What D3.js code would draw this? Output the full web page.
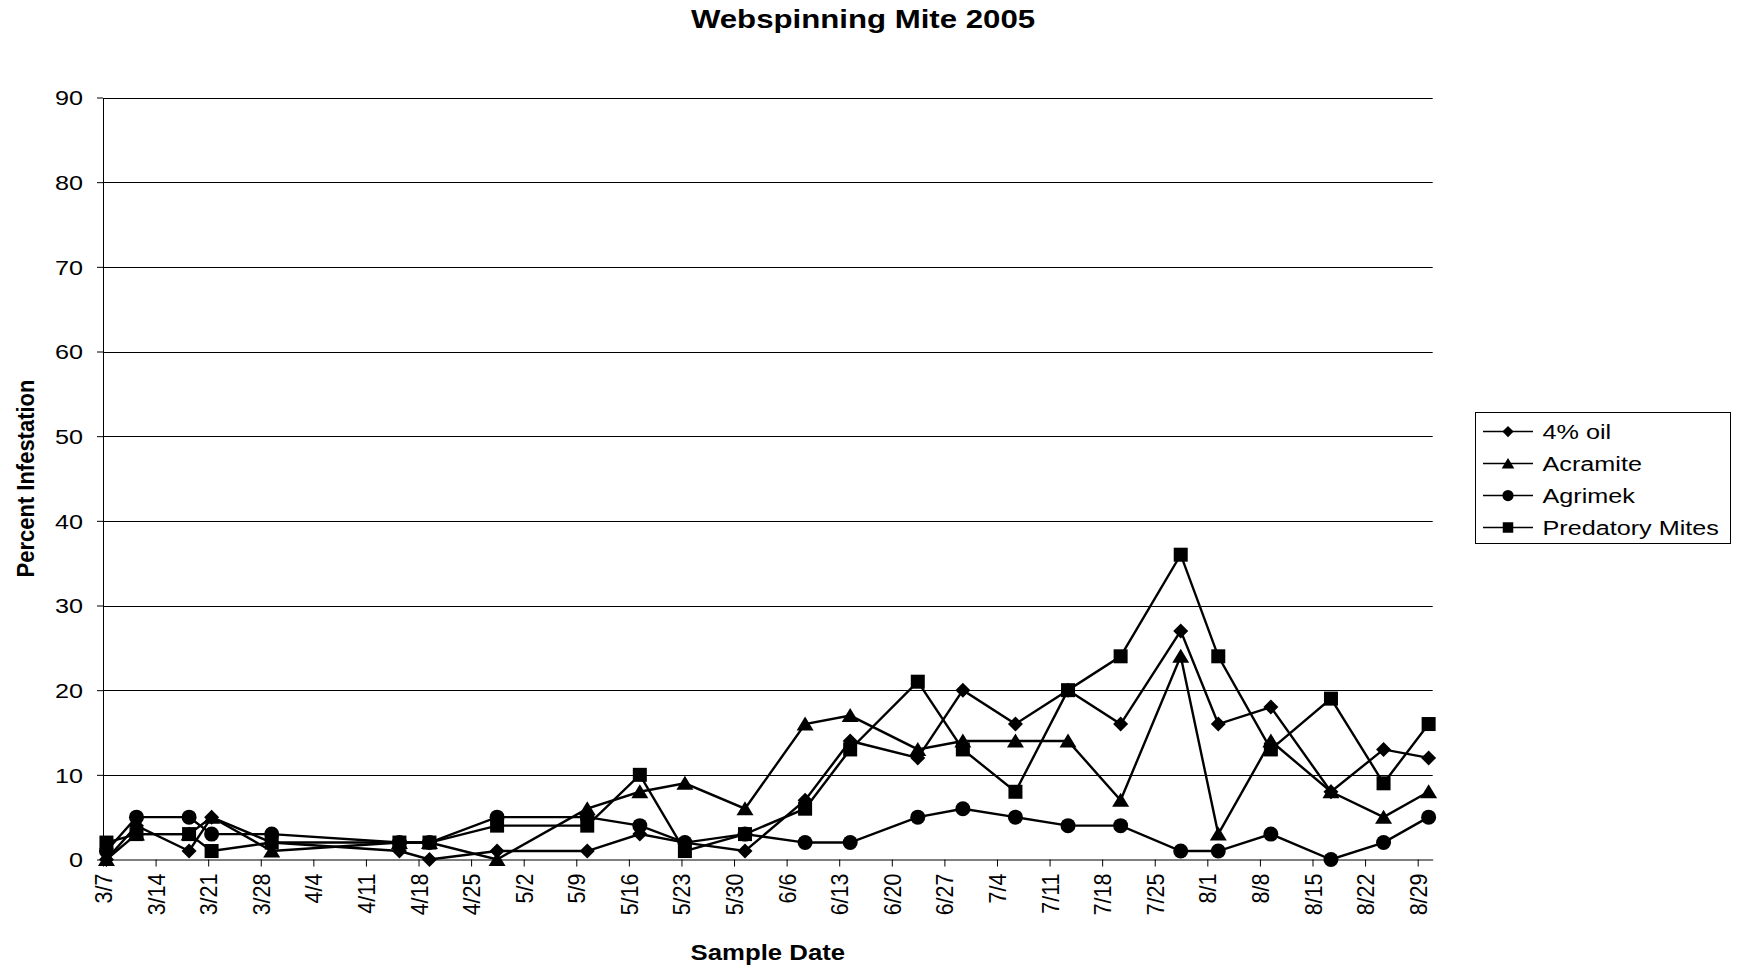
<!DOCTYPE html>
<html lang="en">
<head>
    <title>Webspinning Mite 2005</title>
    <script src="https://d3js.org/d3.v7.min.js"></script>
    <style>
        body { margin: 0; background: #fff; }
        svg { display: block; font-family: "Liberation Sans", Arial, sans-serif; }
        .series path.line { fill: none; stroke: #000; stroke-width: 2.4; }
        .grid line { stroke: #000; stroke-width: 1; }
        .axis path, .axis line { stroke: #000; stroke-width: 1; }
    </style>
</head>
<body>

<script>
    // sample dates (2005) shared by all four treatments
    const sampleDates = ["3/7","3/11","3/18","3/21","3/29","4/15","4/19","4/28","5/10","5/17","5/23","5/31",
        "6/8","6/14","6/23","6/29","7/6","7/13","7/20","7/28","8/2","8/9","8/17","8/24","8/30"];

    const oil4      = [0,4,1,5,2,1,0,1,1,3,2,1,7,14,12,20,16,20,16,27,16,18,8,13,12];
    const acramite  = [0,3,3,5,1,2,2,0,6,8,9,6,16,17,13,14,14,14,7,24,3,14,8,5,8];
    const agrimek   = [1,5,5,3,3,2,2,5,5,4,2,3,2,2,5,6,5,4,4,1,1,3,0,2,5];
    const predatory = [2,3,3,1,2,2,2,4,4,10,1,3,6,13,21,13,8,20,24,36,24,13,19,9,16];

    const seriesNames = ["4% oil", "Acramite", "Agrimek", "Predatory Mites"];
    const seriesValues = [oil4, acramite, agrimek, predatory];
    const seriesSymbols = ["diamond", "triangle", "circle", "square"];

    const xTickLabels = ["3/7","3/14","3/21","3/28","4/4","4/11","4/18","4/25","5/2","5/9","5/16","5/23","5/30",
        "6/6","6/13","6/20","6/27","7/4","7/11","7/18","7/25","8/1","8/8","8/15","8/22","8/29"];
    const xDomain = ["3/7", "8/31"];
    const yTicks = [0,10,20,30,40,50,60,70,80,90];

    const parseDay = s => d3.timeParse("%m/%d/%Y")(s + "/2005");
    // samples were plotted a little past midnight of their day
    const parseSample = s => d3.timeParse("%m/%d/%Y %H")(s + "/2005 11");
    const stretch = 1.2; // horizontal text in the original is widened

    const W = 1737, H = 969;
    const plotLeft = 103, plotRight = 1432.7, plotTop = 97.5, plotBottom = 859.5;

    const x = d3.scaleTime().domain(xDomain.map(parseDay)).range([plotLeft, plotRight]);
    const y = d3.scaleLinear().domain([0, 90]).range([plotBottom, plotTop]);

    const svg = d3.select("body").append("svg").attr("width", W).attr("height", H);
    svg.append("rect").attr("width", W).attr("height", H).attr("fill", "#fff");

    // title
    svg.append("text")
            .attr("transform", `translate(863,28) scale(${stretch},1)`)
            .attr("text-anchor", "middle")
            .attr("font-size", 26).attr("font-weight", "bold")
            .text("Webspinning Mite 2005");

    // gridlines
    svg.append("g").attr("class", "grid")
            .selectAll("line").data(yTicks.filter(d => d > 0)).join("line")
            .attr("x1", plotLeft).attr("x2", plotRight)
            .attr("y1", d => Math.round(y(d)) + 0.5).attr("y2", d => Math.round(y(d)) + 0.5);

    // y axis
    const yAxis = svg.append("g").attr("class", "axis")
            .attr("transform", `translate(${plotLeft},0)`)
            .call(d3.axisLeft(y).tickValues(yTicks).tickSize(6).tickSizeOuter(0));
    yAxis.selectAll("text")
            .attr("font-size", 21).attr("fill", "#000")
            .attr("x", 0).attr("dy", "0.35em")
            .attr("transform", `translate(-20,0) scale(${stretch},1)`);

    // x axis
    const xAxis = svg.append("g").attr("class", "axis")
            .attr("transform", `translate(0,${plotBottom})`)
            .call(d3.axisBottom(x)
                    .tickValues(xTickLabels.map(parseDay))
                    .tickFormat((d, i) => xTickLabels[i])
                    .tickSize(7).tickSizeOuter(0));
    xAxis.selectAll("text")
            .attr("font-size", 21.5).attr("fill", "#000")
            .attr("transform", "scale(1.1,1) rotate(-90)")
            .attr("text-anchor", "end")
            .attr("x", -14).attr("y", 0).attr("dy", "0.36em");

    // axis titles
    svg.append("text")
            .attr("transform", `translate(${(plotLeft + plotRight) / 2},960) scale(1.17,1)`)
            .attr("text-anchor", "middle")
            .attr("font-size", 22).attr("font-weight", "bold")
            .text("Sample Date");

    svg.append("text")
            .attr("transform", `translate(25.5,${(plotTop + plotBottom) / 2}) scale(1.1,1) rotate(-90)`)
            .attr("text-anchor", "middle").attr("dy", "0.35em")
            .attr("font-size", 22).attr("font-weight", "bold")
            .text("Percent Infestation");

    // markers
    function marker(g, type, s) {
        if (type === "diamond") {
            g.append("path").attr("d", `M0,${-7.5*s}L${7.5*s},0L0,${7.5*s}L${-7.5*s},0Z`);
        } else if (type === "triangle") {
            g.append("path").attr("d", `M0,${-7.5*s}L${8.5*s},${6.5*s}L${-8.5*s},${6.5*s}Z`);
        } else if (type === "circle") {
            g.append("ellipse").attr("rx", 7.5 * s).attr("ry", 7.5 * s);
        } else {
            g.append("rect").attr("x", -7 * s).attr("y", -7 * s)
                    .attr("width", 14 * s).attr("height", 14 * s);
        }
    }

    const dates = sampleDates.map(parseSample);
    const line = d3.line().x((d, i) => x(dates[i])).y(d => y(d));

    seriesValues.forEach((vals, k) => {
        const g = svg.append("g").attr("class", "series");
        g.append("path").attr("class", "line").attr("d", line(vals));
        vals.forEach((v, i) => {
            const m = g.append("g")
                    .attr("transform", `translate(${x(dates[i])},${y(v)})`)
                    .attr("fill", "#000");
            marker(m, seriesSymbols[k], 1);
        });
    });

    // legend
    const legend = svg.append("g");
    legend.append("rect")
            .attr("x", 1475.5).attr("y", 412.5).attr("width", 255).attr("height", 131)
            .attr("fill", "#fff").attr("stroke", "#000").attr("stroke-width", 1);

    seriesNames.forEach((name, k) => {
        const ry = 431.5 + k * 32;
        legend.append("line")
                .attr("x1", 1483).attr("x2", 1533).attr("y1", ry).attr("y2", ry)
                .attr("stroke", "#000").attr("stroke-width", 1.6);
        const m = legend.append("g").attr("transform", `translate(1508,${ry})`).attr("fill", "#000");
        marker(m, seriesSymbols[k], 0.75);
        legend.append("text")
                .attr("transform", `translate(1542.5,${ry}) scale(${stretch},1)`)
                .attr("dy", "0.35em").attr("font-size", 21)
                .text(name);
    });
</script>

</body>
</html>
